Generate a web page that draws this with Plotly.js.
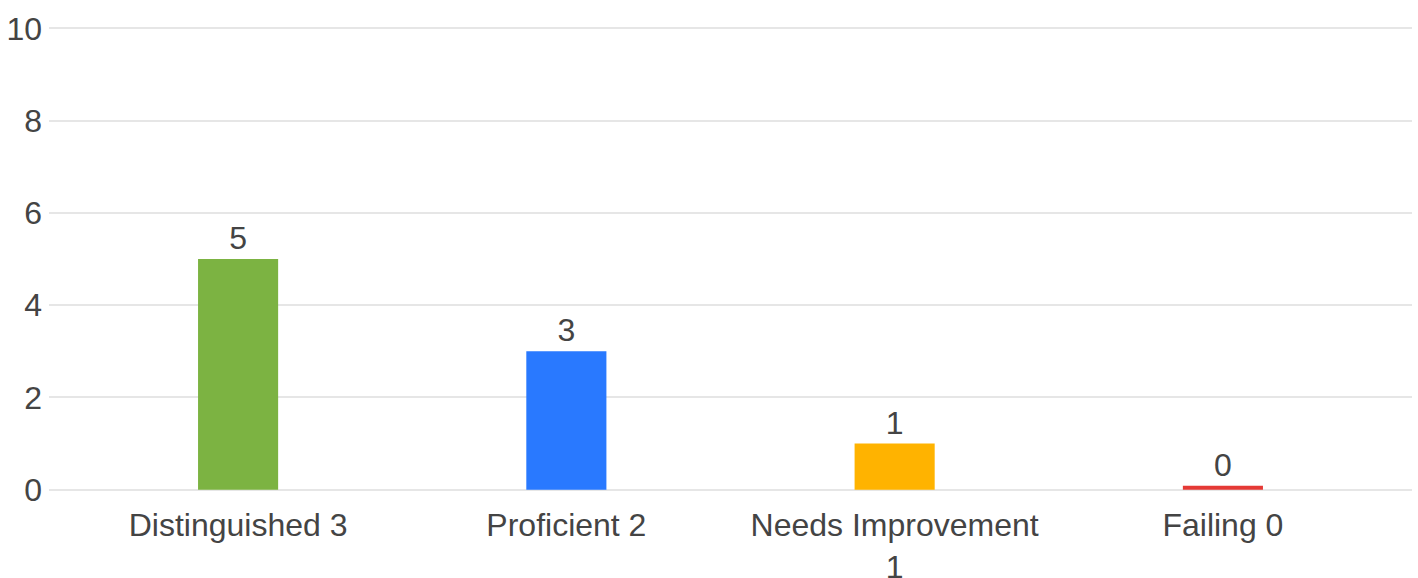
<!DOCTYPE html>
<html>
<head>
<meta charset="utf-8">
<script src="https://cdn.plot.ly/plotly-3.0.1.min.js"></script>
<style>
  html, body { margin: 0; padding: 0; background: #ffffff; }
  #chart { width: 1418px; height: 578px; }
</style>
</head>
<body>
<div id="chart"></div>
<script>
// Categories (tick labels) and values
const categories = ["Distinguished 3", "Proficient 2", "Needs Improvement<br>1", "Failing 0"];
const counts = [5, 3, 1, 0];
const barColors = ["#7cb342", "#2979ff", "#ffb300", "#e53935"];
const yTicks = [0, 2, 4, 6, 8, 10];

// Google-Charts-like: a zero bar is still drawn as a thin sliver
const minVisible = 0.085;
const shown = counts.map(v => Math.max(v, minVisible));

const trace = {
  type: "bar",
  x: categories,
  y: shown,
  text: counts.map(String),
  textposition: "outside",
  cliponaxis: false,
  textfont: { family: "Liberation Sans, Arial, sans-serif", size: 32, color: "#444444" },
  marker: { color: barColors },
  width: 0.244,
  hoverinfo: "skip"
};

const layout = {
  width: 1418,
  height: 578,
  margin: { l: 49, r: 6, t: 26, b: 86 },
  paper_bgcolor: "#ffffff",
  plot_bgcolor: "#ffffff",
  showlegend: false,
  font: { family: "Liberation Sans, Arial, sans-serif", size: 32, color: "#444444" },
  xaxis: {
    type: "category",
    range: [-0.576, 3.576],
    showgrid: false,
    zeroline: false,
    showline: false,
    ticks: "",
    ticklabelstandoff: 11,
    tickfont: { size: 32, color: "#444444" },
    fixedrange: true
  },
  yaxis: {
    range: [-0.05, 10.05],
    tickvals: yTicks,
    ticktext: yTicks.map(String),
    showgrid: true,
    gridcolor: "#e6e6e6",
    gridwidth: 2,
    zeroline: false,
    showline: false,
    ticks: "",
    ticklabelstandoff: 6,
    tickfont: { size: 32, color: "#444444" },
    fixedrange: true
  }
};

Plotly.newPlot("chart", [trace], layout, { displayModeBar: false, staticPlot: true });
</script>
</body>
</html>
